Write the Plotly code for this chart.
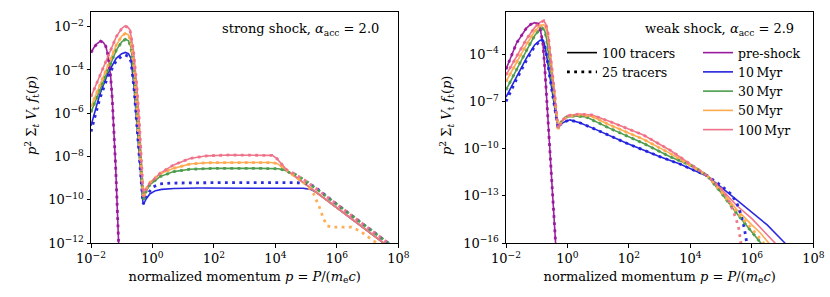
import numpy as np
import plotly.graph_objects as go

# ---------------- data (log10 p, log10 of p^2 sum V f) ----------------
# strong shock panel
S_PRE_P = [-2.0, -1.9, -1.8, -1.69, -1.6, -1.52, -1.45, -1.4, -1.36, -1.31, -1.25, -1.2, -1.15, -1.1, -1.08]
S_PRE_F = [-3.2, -2.95, -2.78, -2.67, -2.72, -2.9, -3.3, -3.75, -4.31, -5.3, -6.78, -8.4, -10.2, -12.0, -12.8]

S_10_P = [-2.0, -1.72, -1.45, -1.18, -1.0, -0.885, -0.78, -0.70, -0.60, -0.515, -0.437, -0.372, -0.32, -0.296,
          -0.2, -0.08, 0.1, 0.3, 0.7, 1.5, 3.0, 4.5, 4.9, 5.15, 5.35, 6.0, 7.0, 7.6, 7.8]
S_10_F = [-6.58, -5.16, -4.16, -3.46, -3.25, -3.19, -3.25, -3.46, -4.77, -6.31, -7.85, -9.3, -10.0, -10.22,
          -9.95, -9.72, -9.58, -9.52, -9.48, -9.46, -9.46, -9.46, -9.47, -9.52, -9.68, -10.37, -11.44, -12.08, -12.3]

S_30_P = [-2.0, -1.718, -1.447, -1.176, -1.0, -0.88, -0.78, -0.70, -0.60, -0.515, -0.437, -0.372, -0.32, -0.296,
          -0.2, -0.08, 0.245, 0.69, 1.22, 2.0, 3.5, 4.1, 4.3, 4.5, 5.0, 6.0, 7.0, 7.55, 7.8]
S_30_F = [-5.95, -4.93, -4.0, -3.08, -2.7, -2.58, -2.65, -2.95, -4.2, -5.8, -7.4, -8.85, -9.7, -10.0,
          -9.6, -9.3, -8.93, -8.70, -8.59, -8.55, -8.55, -8.57, -8.63, -8.78, -9.3, -10.37, -11.44, -12.02, -12.3]

S_50_P = [-2.0, -1.718, -1.447, -1.176, -1.0, -0.883, -0.78, -0.70, -0.60, -0.515, -0.437, -0.372, -0.32, -0.296,
          -0.2, -0.08, 0.245, 0.69, 1.22, 1.77, 3.0, 3.85, 4.05, 4.25, 4.5, 5.0, 6.0, 7.0, 7.55, 7.8]
S_50_F = [-5.7, -4.74, -3.77, -2.85, -2.43, -2.31, -2.38, -2.7, -3.9, -5.45, -7.05, -8.5, -9.5, -9.95,
          -9.5, -9.2, -8.8, -8.55, -8.35, -8.29, -8.28, -8.28, -8.32, -8.5, -8.78, -9.3, -10.37, -11.44, -12.02, -12.3]

S_100_P = [-2.0, -1.718, -1.447, -1.176, -1.0, -0.905, -0.80, -0.73, -0.62, -0.515, -0.437, -0.372, -0.318, -0.296,
           -0.2, -0.08, 0.245, 0.69, 1.22, 1.77, 2.5, 3.5, 3.9, 4.05, 4.4, 5.0, 6.0, 7.0, 7.55, 7.8]
S_100_F = [-5.24, -4.31, -3.39, -2.46, -2.08, -1.97, -2.02, -2.15, -3.08, -4.62, -6.16, -7.70, -9.24, -9.86,
           -9.45, -9.24, -8.78, -8.39, -8.09, -7.97, -7.93, -7.93, -7.95, -8.1, -8.67, -9.3, -10.37, -11.44, -12.02, -12.3]

# strong shock, 25 tracers (dotted)
S_10D_P = [-2.0, -1.72, -1.45, -1.18, -1.0, -0.885, -0.78, -0.70, -0.60, -0.515, -0.437, -0.372, -0.32, -0.296,
           -0.19, 0.03, 0.25, 0.6, 2.0, 4.5, 4.9, 5.1, 5.3, 6.0, 7.0, 7.7, 7.9]
S_10D_F = [-6.85, -5.35, -4.3, -3.58, -3.36, -3.31, -3.37, -3.6, -4.85, -6.35, -7.9, -9.3, -10.0, -10.2,
           -9.78, -9.40, -9.27, -9.23, -9.21, -9.21, -9.22, -9.26, -9.42, -10.21, -11.28, -12.03, -12.25]
S_TAILD_P = [4.6, 5.0, 6.0, 7.0, 7.7, 7.9]          # tail of the 30/100 Myr dotted runs
S_TAILD_F = [-8.78, -9.14, -10.21, -11.28, -12.03, -12.25]
S_50D_TAIL_P = [5.0, 5.235, 5.34, 5.45, 5.56, 5.69, 5.85, 6.2, 6.48, 6.75, 6.96, 7.18, 7.35, 7.5]
S_50D_TAIL_F = [-9.3, -9.70, -10.01, -10.40, -10.86, -11.21, -11.27, -11.27, -11.27, -11.44, -11.68, -11.89, -12.05, -12.2]

# weak shock panel
W_PRE_P = [-2.0, -1.66, -1.34, -1.2, -1.07, -0.95, -0.9, -0.8, -0.74, -0.67, -0.58, -0.49, -0.415, -0.39, -0.37]
W_PRE_F = [-4.95, -3.30, -2.35, -2.1, -1.99, -2.08, -2.24, -3.3, -4.79, -6.9, -9.66, -12.42, -14.96, -15.8, -16.5]

W_10_P = [-2.0, -1.66, -1.34, -1.07, -0.9, -0.83, -0.76, -0.69, -0.61, -0.53, -0.45, -0.36, -0.31, -0.243, -0.1,
          0.08, 0.4, 0.84, 1.93, 3.01, 3.66, 4.1, 4.55, 5.0, 5.5, 6.0, 6.5, 7.05, 7.25]
W_10_F = [-6.72, -5.42, -4.26, -3.41, -3.12, -3.07, -3.25, -3.94, -5.0, -6.06, -7.1, -8.18, -8.7, -8.49, -8.3,
          -8.17, -8.35, -8.71, -9.66, -10.51, -10.98, -11.36, -11.75, -12.45, -13.25, -14.0, -14.85, -15.95, -16.4]

W_30_P = [-2.0, -1.66, -1.34, -1.07, -0.9, -0.82, -0.74, -0.68, -0.6, -0.5, -0.4, -0.32, -0.3, -0.2, -0.05,
          0.245, 0.6, 1.38, 2.47, 3.34, 4.1, 4.55, 5.0, 5.5, 6.0, 6.3, 6.5]
W_30_F = [-6.27, -4.95, -3.78, -2.82, -2.4, -2.33, -2.5, -3.0, -4.2, -5.9, -7.5, -8.6, -8.72, -8.3, -8.0,
          -7.92, -7.98, -8.71, -9.66, -10.51, -11.14, -11.72, -12.8, -14.1, -15.3, -16.0, -16.5]

W_50_P = [-2.0, -1.66, -1.34, -1.07, -0.9, -0.77, -0.7, -0.64, -0.56, -0.46, -0.38, -0.32, -0.3, -0.2, 0.0,
          0.4, 0.8, 1.38, 2.47, 3.34, 3.99, 4.55, 5.0, 5.5, 6.0, 6.27, 6.55, 6.7]
W_50_F = [-5.74, -4.5, -3.4, -2.55, -2.2, -2.12, -2.3, -2.8, -4.0, -5.8, -7.3, -8.5, -8.75, -8.3, -7.95,
          -7.86, -7.95, -8.5, -9.4, -10.3, -11.04, -11.72, -12.65, -13.85, -14.85, -15.35, -16.0, -16.4]

W_100_P = [-2.0, -1.66, -1.34, -1.07, -0.9, -0.77, -0.7, -0.63, -0.53, -0.42, -0.34, -0.3, -0.2, 0.0,
           0.4, 0.8, 1.38, 2.47, 3.34, 3.9, 4.3, 4.55, 5.0, 5.5, 6.0, 6.5, 6.8, 6.95]
W_100_F = [-5.32, -4.1, -3.05, -2.3, -1.98, -1.87, -2.1, -2.67, -4.36, -6.48, -8.18, -8.75, -8.25, -7.9,
           -7.8, -7.86, -8.28, -9.13, -10.1, -10.85, -11.35, -11.72, -12.55, -13.6, -14.45, -15.45, -16.05, -16.4]

# weak shock, 25 tracers (dotted) where they differ from 100 tracers
W_10D_HEAD_P = [-2.0, -1.66, -1.34, -1.07, -0.9]
W_10D_HEAD_F = [-7.0, -5.6, -4.4, -3.5, -3.18]
W_10D_TAIL_P = [4.55, 5.0, 5.3, 5.5, 5.65, 5.75, 5.82, 5.87]
W_10D_TAIL_F = [-11.72, -12.35, -12.85, -13.4, -14.2, -15.0, -15.8, -16.4]
W_50D_TAIL_P = [4.55, 5.0, 5.5, 6.0, 6.4, 6.55]
W_50D_TAIL_F = [-11.72, -12.75, -14.0, -15.1, -16.0, -16.4]
W_100D_TAIL_P = [4.55, 5.0, 5.2, 5.4, 5.56, 5.63, 5.67]
W_100D_TAIL_F = [-11.72, -12.55, -13.1, -14.0, -14.9, -15.8, -16.4]

LABELS = ["pre-shock", "10\u2009Myr", "30\u2009Myr", "50\u2009Myr", "100\u2009Myr"]
COLORS = ["#9a1a9e", "#2323df", "#4c9c4c", "#ffa94f", "#ef7189"]

X_TICKS = [-2, 0, 2, 4, 6, 8]
S_Y_TICKS = [-12, -10, -8, -6, -4, -2]
W_Y_TICKS = [-16, -13, -10, -7, -4]


def splice(p, f, tp, tf):
    """Use (p, f) below the first tail point, then the tail values."""
    keep = [i for i, v in enumerate(p) if v < tp[0]]
    return [p[i] for i in keep] + list(tp), [f[i] for i in keep] + list(tf)


def splice_head(p, f, hp, hf):
    keep = [i for i, v in enumerate(p) if v > hp[-1]]
    return list(hp) + [p[i] for i in keep], list(hf) + [f[i] for i in keep]


fig = go.Figure()
FONT = "DejaVu Serif"
FS = 13
SOLID_W = 1.6
DOT_W = 2.8
DOT = "2.8px,4.4px"


def add(lp, lf, color, dotted, ax):
    fig.add_trace(go.Scatter(
        x=10 ** np.array(lp, dtype=float), y=10 ** np.array(lf, dtype=float),
        mode="lines", showlegend=False, hoverinfo="skip",
        line=dict(color=color, width=DOT_W if dotted else SOLID_W, dash=DOT if dotted else "solid"),
        opacity=0.95,
        xaxis="x" if ax == 1 else "x2", yaxis="y" if ax == 1 else "y2"))


strong_solid = [(S_PRE_P, S_PRE_F), (S_10_P, S_10_F), (S_30_P, S_30_F), (S_50_P, S_50_F), (S_100_P, S_100_F)]
strong_dot = [(S_PRE_P, S_PRE_F), (S_10D_P, S_10D_F),
              splice(S_30_P, S_30_F, S_TAILD_P, S_TAILD_F),
              splice(S_50_P, S_50_F, S_50D_TAIL_P, S_50D_TAIL_F),
              splice(S_100_P, S_100_F, S_TAILD_P, S_TAILD_F)]
weak_solid = [(W_PRE_P, W_PRE_F), (W_10_P, W_10_F), (W_30_P, W_30_F), (W_50_P, W_50_F), (W_100_P, W_100_F)]
w10d = splice_head(W_10_P, W_10_F, W_10D_HEAD_P, W_10D_HEAD_F)
weak_dot = [(W_PRE_P, W_PRE_F),
            splice(w10d[0], w10d[1], W_10D_TAIL_P, W_10D_TAIL_F),
            (W_30_P, W_30_F),
            splice(W_50_P, W_50_F, W_50D_TAIL_P, W_50D_TAIL_F),
            splice(W_100_P, W_100_F, W_100D_TAIL_P, W_100D_TAIL_F)]

for ax, solid, dot in [(1, strong_solid, strong_dot), (2, weak_solid, weak_dot)]:
    for (p, f), c in zip(solid, COLORS):
        add(p, f, c, False, ax)
    for (p, f), c in zip(dot, COLORS):
        add(p, f, c, True, ax)

# legends
fig.add_trace(go.Scatter(x=[None], y=[None], mode="lines", name="100 tracers",
                         line=dict(color="black", width=SOLID_W), legend="legend", xaxis="x2", yaxis="y2"))
fig.add_trace(go.Scatter(x=[None], y=[None], mode="lines", name="25 tracers",
                         line=dict(color="black", width=DOT_W, dash=DOT), legend="legend", xaxis="x2", yaxis="y2"))
for lab, c in zip(LABELS, COLORS):
    fig.add_trace(go.Scatter(x=[None], y=[None], mode="lines", name=lab,
                             line=dict(color=c, width=SOLID_W), legend="legend2", xaxis="x2", yaxis="y2"))


def sup(e):
    return "10<sup>" + ("\u2212" + str(-e) if e < 0 else str(e)) + "</sup>"


W, H = 830, 297
yd = [1 - 243 / H, 1 - 12 / H]
tf = dict(family=FONT, size=FS, color="black")
lf = dict(family=FONT, size=12.5, color="black")
axis_common = dict(type="log", showgrid=False, zeroline=False, showline=True, linecolor="black",
                   linewidth=1, mirror=True, ticks="outside", ticklen=3.5, tickwidth=0.8,
                   tickcolor="black", automargin=False, tickfont=tf)
xtitle = "normalized momentum <i>p</i> = <i>P</i>/(<i>m</i><sub>e</sub><i>c</i>)"
ytitle = "<i>p</i><sup>2</sup> Σ<sub><i>t</i></sub> <i>V</i><sub>t</sub> <i>f</i><sub>t</sub>(<i>p</i>)"

fig.update_layout(
    width=W, height=H, margin=dict(l=0, r=0, t=0, b=0, autoexpand=False),
    paper_bgcolor="white", plot_bgcolor="white",
    font=tf,
    xaxis=dict(axis_common, domain=[91 / W, 398.3 / W], range=[-2, 8], anchor="y",
               tickvals=[10.0 ** e for e in X_TICKS], ticktext=[sup(e) for e in X_TICKS],
               title=dict(text=xtitle, standoff=6, font=tf)),
    yaxis=dict(axis_common, domain=yd, range=[-12, -1.32], anchor="x",
               tickvals=[10.0 ** e for e in S_Y_TICKS], ticktext=[sup(e) for e in S_Y_TICKS]),
    xaxis2=dict(axis_common, domain=[506 / W, 813.3 / W], range=[-2, 8], anchor="y2",
                tickvals=[10.0 ** e for e in X_TICKS], ticktext=[sup(e) for e in X_TICKS],
                title=dict(text=xtitle, standoff=6, font=tf)),
    yaxis2=dict(axis_common, domain=yd, range=[-16, -1.31], anchor="x2",
                tickvals=[10.0 ** e for e in W_Y_TICKS], ticktext=[sup(e) for e in W_Y_TICKS]),
    legend=dict(x=562 / W, y=1 - 38 / H, xanchor="left", yanchor="top", bgcolor="rgba(0,0,0,0)",
                font=lf, itemwidth=30, tracegroupgap=0),
    legend2=dict(x=698 / W, y=1 - 38 / H, xanchor="left", yanchor="top", bgcolor="rgba(0,0,0,0)",
                 font=lf, itemwidth=30, tracegroupgap=0),
    annotations=[
        dict(text="strong shock, <i>α</i><sub>acc</sub> = 2.0", xref="paper", yref="paper",
             x=381 / W, y=1 - 30 / H, xanchor="right", yanchor="middle", showarrow=False, font=tf),
        dict(text="weak shock, <i>α</i><sub>acc</sub> = 2.9", xref="paper", yref="paper",
             x=796 / W, y=1 - 30 / H, xanchor="right", yanchor="middle", showarrow=False, font=tf),
        dict(text=ytitle, xref="paper", yref="paper", x=32 / W, y=1 - 116 / H, textangle=-90,
             xanchor="center", yanchor="middle", showarrow=False, font=tf),
        dict(text=ytitle, xref="paper", yref="paper", x=447 / W, y=1 - 116 / H, textangle=-90,
             xanchor="center", yanchor="middle", showarrow=False, font=tf),
    ],
)

fig.write_html("out.html", config={"displayModeBar": False},
               post_script="document.body.style.margin='0';")
